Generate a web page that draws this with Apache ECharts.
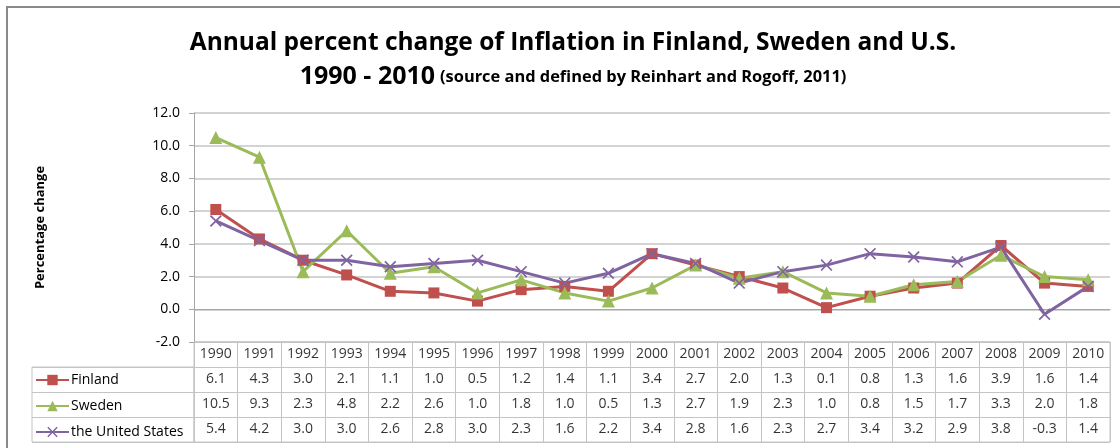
<!DOCTYPE html>
<html>
<head>
<meta charset="utf-8">
<script src="https://cdn.jsdelivr.net/npm/echarts@6/dist/echarts.min.js"></script>
<style>
  html, body { margin: 0; padding: 0; background: #fff; }
  #chart { width: 1120px; height: 448px; }
</style>
</head>
<body>
<div id="chart"></div>
<script>
// data
var years = ["1990", "1991", "1992", "1993", "1994", "1995", "1996", "1997", "1998", "1999", "2000",
  "2001", "2002", "2003", "2004", "2005", "2006", "2007", "2008", "2009", "2010"];
var finland = [6.1, 4.3, 3.0, 2.1, 1.1, 1.0, 0.5, 1.2, 1.4, 1.1, 3.4, 2.7, 2.0, 1.3, 0.1, 0.8, 1.3, 1.6, 3.9, 1.6, 1.4];
var sweden = [10.5, 9.3, 2.3, 4.8, 2.2, 2.6, 1.0, 1.8, 1.0, 0.5, 1.3, 2.7, 1.9, 2.3, 1.0, 0.8, 1.5, 1.7, 3.3, 2.0, 1.8];
var usa = [5.4, 4.2, 3.0, 3.0, 2.6, 2.8, 3.0, 2.3, 1.6, 2.2, 3.4, 2.8, 1.6, 2.3, 2.7, 3.4, 3.2, 2.9, 3.8, -0.3, 1.4];
var seriesNames = ["Finland", "Sweden", "the United States"];
var yTicks = { min: -2, max: 12, step: 2 };

var FONT = "Open Sans";
var gridColor = "#c4c4c4";
var crossPath = "path://M0,1L1,0L5,4L9,0L10,1L6,5L10,9L9,10L5,6L1,10L0,9L4,5Z";

var chart = echarts.init(document.getElementById("chart"));

// table cells as labels on a category grid
function cellRow(row, values, isText) {
  return values.map(function (v, i) {
    return [i, row, isText ? v : v.toFixed(1)];
  });
}
var tableCells = []
  .concat(cellRow(0, years, true))
  .concat(cellRow(1, finland))
  .concat(cellRow(2, sweden))
  .concat(cellRow(3, usa));

function lineSeries(name, data, color, symbol, size) {
  return {
    name: name,
    type: "line",
    data: data,
    xAxisIndex: 0,
    yAxisIndex: 0,
    symbol: symbol,
    symbolSize: size,
    lineStyle: { color: color, width: 3 },
    itemStyle: { color: color },
    emphasis: { disabled: true },
    z: 3
  };
}

chart.setOption({
  backgroundColor: "#fff",
  animation: false,
  title: {
    left: 568,
    top: 20,
    textAlign: "center",
    text: "{a|Annual percent change of Inflation in Finland, Sweden and U.S.}\n{b|1990 - 2010} {c|(source and defined by Reinhart and Rogoff, 2011)}",
    textStyle: {
      rich: {
        a: { fontFamily: FONT, fontWeight: "bold", fontSize: 24.5, color: "#000", lineHeight: 36 },
        b: { fontFamily: FONT, fontWeight: "bold", fontSize: 25, color: "#000", lineHeight: 32 },
        c: { fontFamily: FONT, fontWeight: "bold", fontSize: 16.4, color: "#000", lineHeight: 32 }
      }
    }
  },
  legend: {
    orient: "vertical",
    left: 35,
    top: 373,
    padding: 0,
    itemWidth: 33,
    itemHeight: 13,
    itemGap: 12,
    selectedMode: false,
    textStyle: { fontFamily: FONT, fontSize: 14, color: "#000", padding: [0, 0, 0, -3] },
    data: seriesNames
  },
  graphic: [{
    type: "rect",
    shape: { x: 7, y: 7, width: 1200, height: 500 },
    style: { fill: "none", stroke: "#8a8a8a", lineWidth: 2 },
    silent: true
  }],
  grid: [
    { left: 194, right: 10, top: 113, height: 229 },
    { left: 194, right: 10, top: 342, height: 100, show: true, borderColor: gridColor, borderWidth: 1 },
    { left: 32, width: 162, top: 367, height: 75, show: true, borderColor: gridColor, borderWidth: 1 }
  ],
  xAxis: [
    {
      gridIndex: 0, type: "category", data: years, boundaryGap: true,
      axisLine: { show: true, lineStyle: { color: "#a6a6a6", width: 1 } },
      axisTick: { show: false }, axisLabel: { show: false }, splitLine: { show: false }
    },
    {
      gridIndex: 1, type: "category", data: years, boundaryGap: true,
      axisLine: { show: false }, axisTick: { show: false }, axisLabel: { show: false },
      splitLine: { show: true, interval: 0, lineStyle: { color: gridColor, width: 1 } }
    },
    {
      gridIndex: 2, type: "category", data: [""], boundaryGap: true,
      axisLine: { show: false }, axisTick: { show: false }, axisLabel: { show: false },
      splitLine: { show: false }
    }
  ],
  yAxis: [
    {
      gridIndex: 0, type: "value", min: yTicks.min, max: yTicks.max, interval: yTicks.step,
      name: "Percentage change", nameLocation: "middle", nameRotate: 90, nameGap: 147,
      nameTextStyle: { fontFamily: FONT, fontWeight: "bold", fontSize: 13, color: "#000" },
      axisLine: { show: true, lineStyle: { color: "#a6a6a6", width: 1 } },
      axisTick: { show: true, length: 5, lineStyle: { color: "#a6a6a6" } },
      axisLabel: {
        fontFamily: FONT, fontSize: 14, color: "#000", margin: 14,
        formatter: function (v) { return v.toFixed(1); }
      },
      splitLine: { show: true, lineStyle: { color: gridColor, width: 1.5 } }
    },
    {
      gridIndex: 1, type: "category", inverse: true, data: ["year"].concat(seriesNames),
      axisLine: { show: false }, axisTick: { show: false }, axisLabel: { show: false },
      splitLine: { show: true, interval: 0, lineStyle: { color: gridColor, width: 1 } }
    },
    {
      gridIndex: 2, type: "category", inverse: true, data: seriesNames,
      axisLine: { show: false }, axisTick: { show: false }, axisLabel: { show: false },
      splitLine: { show: true, interval: 0, lineStyle: { color: gridColor, width: 1 } }
    }
  ],
  series: [
    lineSeries("Finland", finland, "#c0504d", "rect", 11),
    lineSeries("Sweden", sweden, "#9bbb59", "triangle", 13),
    lineSeries("the United States", usa, "#8064a2", crossPath, 12),
    {
      type: "scatter",
      xAxisIndex: 1,
      yAxisIndex: 1,
      data: tableCells,
      symbolSize: 0,
      silent: true,
      label: {
        show: true,
        position: "inside",
        fontFamily: FONT,
        fontSize: 14,
        color: "#000",
        formatter: function (p) { return p.value[2]; }
      }
    }
  ]
});
</script>
</body>
</html>
